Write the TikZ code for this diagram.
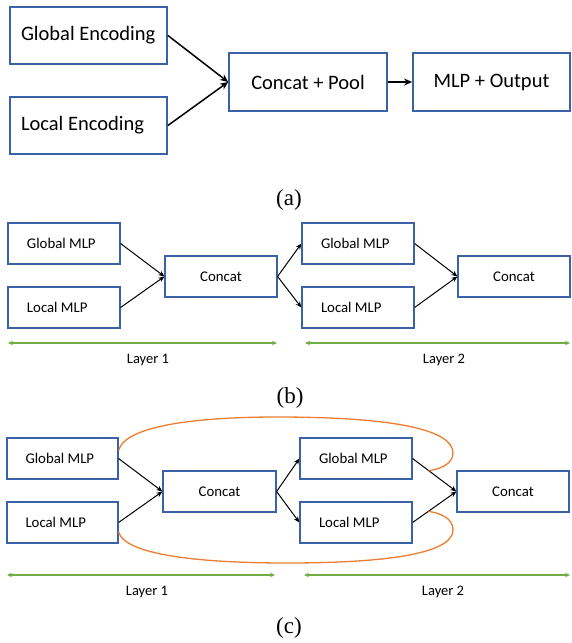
\documentclass[tikz,border=0pt]{standalone}
\usepackage{fontspec}
\setmainfont{Carlito}
\newfontfamily\capfont{Liberation Serif}
\usetikzlibrary{arrows.meta}
\definecolor{boxblue}{HTML}{3B62A8}
\definecolor{lgreen}{HTML}{70AD47}
\definecolor{lorange}{HTML}{ED7D31}
\newcommand{\bigtxt}[1]{\makebox[135pt][l]{#1}}
\newcommand{\smtxt}[1]{\makebox[74pt][l]{#1}}
\begin{document}
\begin{tikzpicture}[x=1pt,y=-1pt,
  bigbox/.style={draw=boxblue, line width=1.8pt, minimum height=57pt, minimum width=157pt, inner sep=0pt, font=\fontsize{20.5}{24}\selectfont},
  smbox/.style={draw=boxblue, line width=1.2pt, minimum height=41pt, minimum width=112pt, inner sep=0pt, font=\fontsize{14.8}{17}\selectfont},
  bigarrow/.style={line width=1.5pt, -{Stealth[length=8pt,width=7pt]}},
  smarrow/.style={line width=1pt, -{Stealth[length=6pt,width=5pt]}},
  garrow/.style={draw=lgreen, line width=1.4pt, {Stealth[length=5pt,width=4.5pt]}-{Stealth[length=5pt,width=4.5pt]}},
  orangeline/.style={draw=lorange, line width=1.3pt},
  layerlbl/.style={font=\fontsize{14.5}{17}\selectfont, inner sep=0pt},
  caplbl/.style={font=\capfont\fontsize{23}{26}\selectfont, inner sep=0pt}
]
\useasboundingbox (0,0) rectangle (571,643);

% ---------- (a) ----------
\node[bigbox] (GE) at (88.5,35.5) {\bigtxt{Global Encoding}};
\node[bigbox] (LE) at (88.5,125.5) {\bigtxt{Local Encoding}};
\node[bigbox, minimum width=158pt, minimum height=58pt] (CP) at (308,82) {Concat + Pool};
\node[bigbox, minimum height=58pt] (MO) at (491.5,82) {MLP + Output};
\draw[bigarrow] (GE.east) -- (CP.west);
\draw[bigarrow] (LE.east) -- (CP.west);
\draw[bigarrow] (CP.east) -- (MO.west);
\node[caplbl] (capa) at (289,200) {(a)};

% ---------- (b) ----------
\node[smbox] (G1b) at (64,243.5) {\smtxt{Global MLP}};
\node[smbox] (L1b) at (64,307.5) {\smtxt{Local MLP}};
\node[smbox] (C1b) at (221,276.5) {Concat};
\node[smbox] (G2b) at (358,243.5) {\smtxt{Global MLP}};
\node[smbox] (L2b) at (358,307.5) {\smtxt{Local MLP}};
\node[smbox] (C2b) at (514,276.5) {Concat};
\draw[smarrow] (G1b.east) -- (C1b.west);
\draw[smarrow] (L1b.east) -- (C1b.west);
\draw[smarrow] (C1b.east) -- (G2b.west);
\draw[smarrow] (C1b.east) -- (L2b.west);
\draw[smarrow] (G2b.east) -- (C2b.west);
\draw[smarrow] (L2b.east) -- (C2b.west);
\coordinate (gb1s) at (8,343);
\coordinate (gb1e) at (277,343);
\coordinate (gb2s) at (305,343);
\coordinate (gb2e) at (570,343);
\draw[garrow] (gb1s) -- (gb1e);
\draw[garrow] (gb2s) -- (gb2e);
\node[layerlbl] (lb1) at (148,360) {Layer 1};
\node[layerlbl] (lb2) at (444,360) {Layer 2};
\node[caplbl] (capb) at (290,398) {(b)};

% ---------- (c) ----------
\node[smbox, minimum width=111pt] (G1c) at (62.5,458.5) {\smtxt{Global MLP}};
\node[smbox, minimum width=111pt] (L1c) at (62.5,522.5) {\smtxt{Local MLP}};
\node[smbox, minimum width=113pt] (C1c) at (219.5,491.5) {Concat};
\node[smbox] (G2c) at (356,458.5) {\smtxt{Global MLP}};
\node[smbox] (L2c) at (356,522.5) {\smtxt{Local MLP}};
\node[smbox] (C2c) at (513,491.5) {Concat};
\draw[smarrow] (G1c.east) -- (C1c.west);
\draw[smarrow] (L1c.east) -- (C1c.west);
\draw[smarrow] (C1c.east) -- (G2c.west);
\draw[smarrow] (C1c.east) -- (L2c.west);
\draw[smarrow] (G2c.east) -- (C2c.west) coordinate[pos=0.37] (ta);
\draw[smarrow] (L2c.east) -- (C2c.west) coordinate[pos=0.36] (tb);
\draw[orangeline] ([yshift=8pt]G1c.east) .. controls (125,425) and (200,417) .. (277,417)
   .. controls (400,417) and (453,431) .. (453,453)
   .. controls (453,464) and (440,469) .. (ta);
\draw[orangeline] ([yshift=-9.5pt]L1c.east) .. controls (125,555) and (200,563) .. (287,563)
   .. controls (400,563) and (453,551) .. (453,530)
   .. controls (453,518) and (440,513) .. (tb);
\coordinate (gc1s) at (7,575);
\coordinate (gc1e) at (275,575);
\coordinate (gc2s) at (304,575);
\coordinate (gc2e) at (570,575);
\draw[garrow] (gc1s) -- (gc1e);
\draw[garrow] (gc2s) -- (gc2e);
\node[layerlbl] (lc1) at (147,592) {Layer 1};
\node[layerlbl] (lc2) at (443,592) {Layer 2};
\node[caplbl] (capc) at (289,628) {(c)};
\end{tikzpicture}
\end{document}
